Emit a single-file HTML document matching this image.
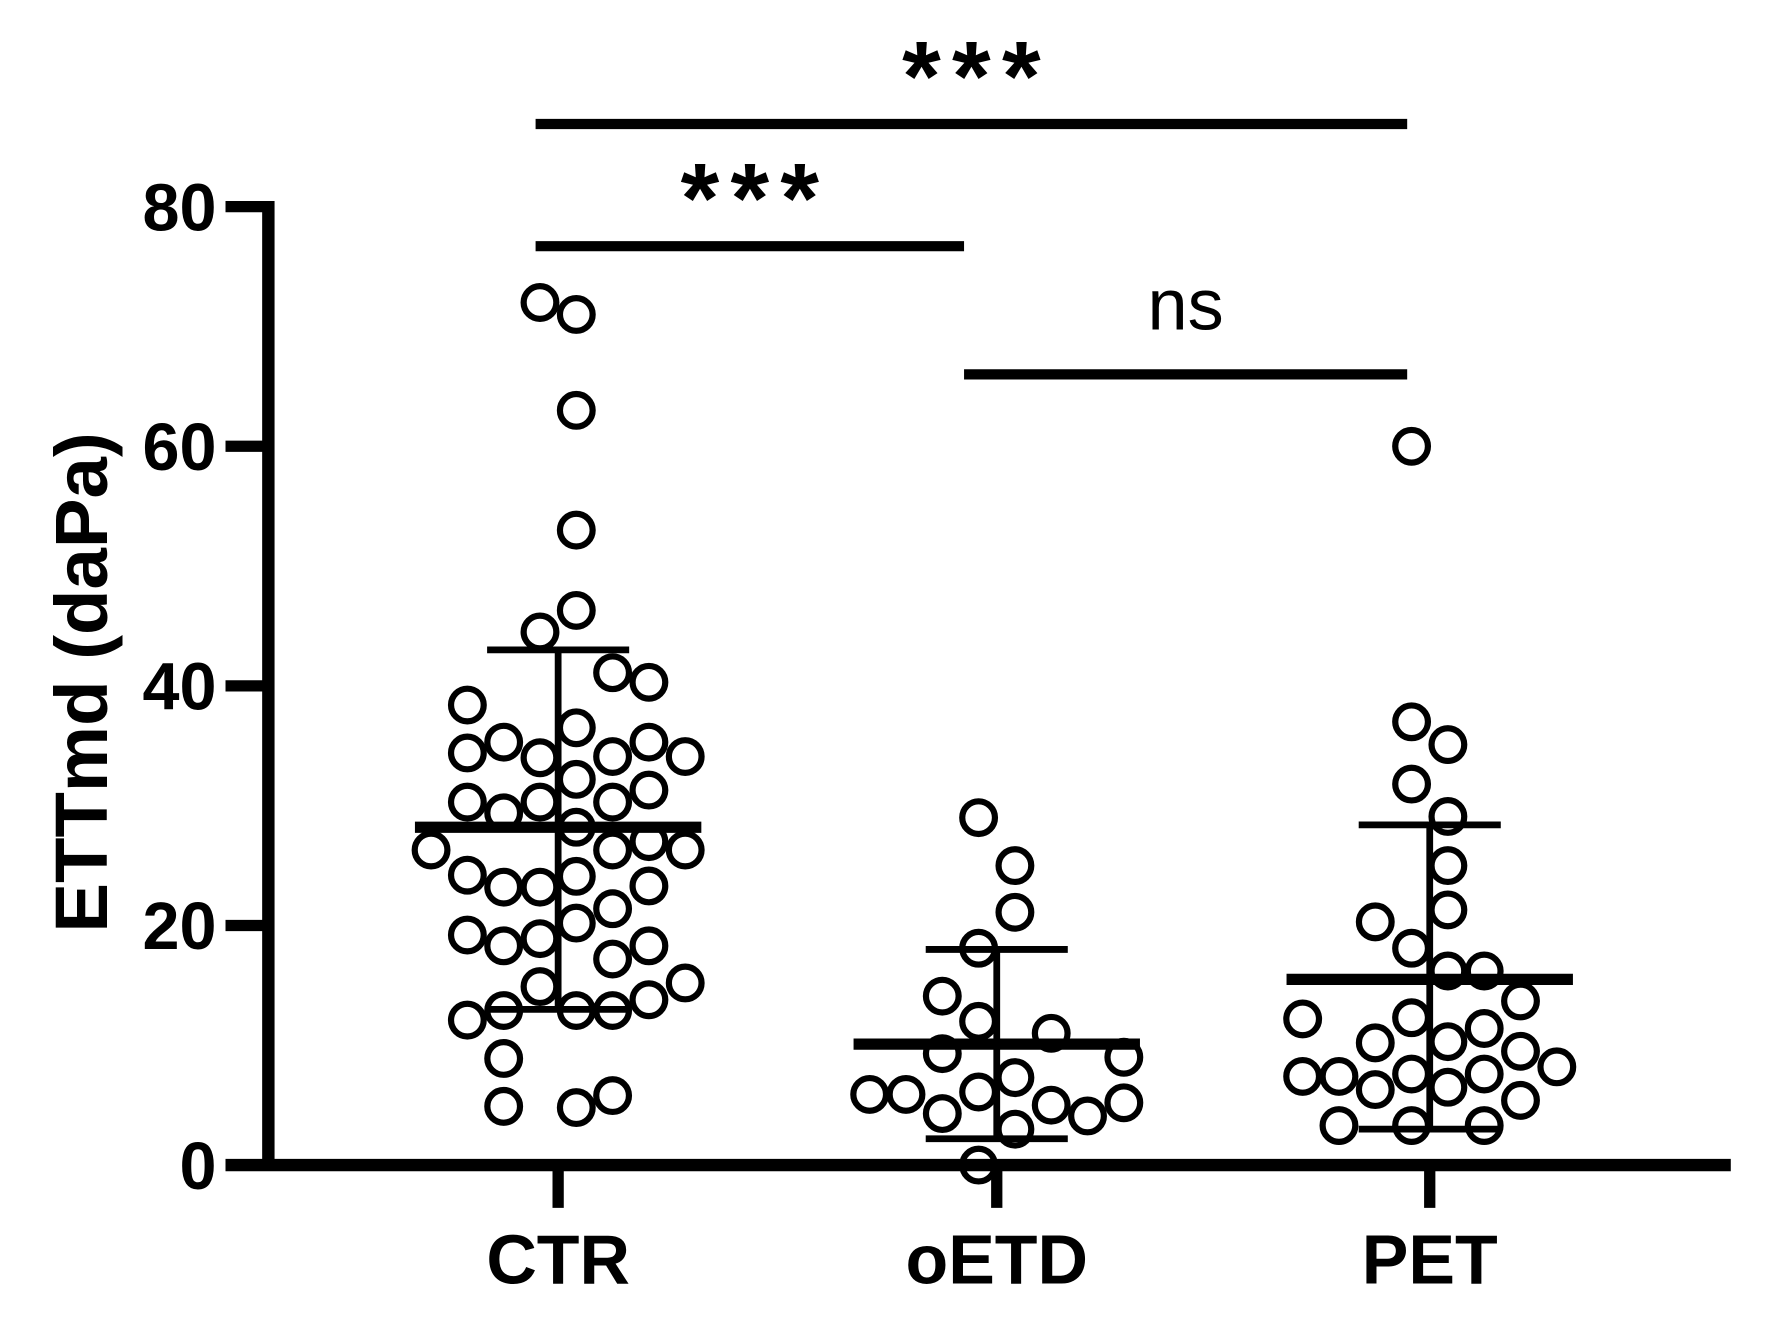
<!DOCTYPE html>
<html><head><meta charset="utf-8"><style>
html,body{margin:0;padding:0;background:#fff;}
svg{display:block;}
text{font-family:"Liberation Sans",Arial,sans-serif;fill:#000;}
</style></head><body>
<svg id="chart" width="1768" height="1321" viewBox="0 0 1568 1171" xmlns="http://www.w3.org/2000/svg">
<rect width="1568" height="1171" fill="#fff"/>
<g id="axes"></g>
<g id="marks"></g>
<g id="sig"></g>
</svg>
<script>
const categories = ["CTR", "oETD", "PET"];
const yTicks = [0, 20, 40, 60, 80];
const ctrSlots = [-1,0,0,0,0,-1,1,2,-3,0,-2,2,-3,-1,1,3,0,-3,-2,-1,1,2,0,-4,1,2,3,-3,-2,-1,0,2,1,0,-3,-2,-1,1,2,-1,3,2,-2,0,1,-3,-2,-2,0,1];
const ctrValues = [72,71,63,53,46.3,44.5,41.1,40.3,38.4,36.5,35.3,35.3,34.4,34.0,34.1,34.1,32.2,30.3,29.4,30.3,30.3,31.3,28.2,26.3,26.3,27.0,26.3,24.2,23.2,23.2,24.1,23.3,21.4,20.2,19.2,18.3,18.9,17.2,18.3,14.9,15.2,13.8,12.9,12.9,12.9,12.1,8.9,4.9,4.8,5.8];
const oetdSlots = [-1,0,0,-1,-2,-1,1,-2,3,-4,-3,-1,0,-2,1,2,3,0,-1];
const oetdValues = [29,25,21.1,18.1,14.1,12,11,9.3,9,5.9,5.9,6.1,7.3,4.3,5,4.1,5.2,3,0];
const petSlots = [-1,-1,0,-1,0,0,0,-2,-1,0,1,2,-4,-1,1,-2,0,2,3,-4,-3,-1,1,-2,0,2,-3,-1,1];
const petValues = [60,37,35.1,31.8,29.1,25,21.3,20.3,18.1,16.2,16.2,13.7,12.2,12.3,11.4,10.2,10.3,9.5,8.2,7.4,7.4,7.6,7.6,6.3,6.5,5.4,3.3,3.3,3.3];
const means = [28.2, 10.1, 15.5];
const sdUpper = [43, 18.0, 28.4];
const sdLower = [13, 2.2, 3.0];
const sigLabels = ["***", "***", "ns"];
const sigFrom = [0, 0, 1];
const sigTo = [2, 1, 2];
const sigLevel = [86.9, 76.7, 66.0];

const NS = "http://www.w3.org/2000/svg";
const yZero = 1033, yTop = 183, xLeft = 238, xRight = 1535;
const catX = [495, 884, 1268];
function yScale(v){ return yZero - v * (yZero - yTop) / 80; }
function xScale(i, slot){ return catX[i] + (slot + 0.5) * 32.2; }
function mk(tag, attrs, parent){
  const el = document.createElementNS(NS, tag);
  for (const k in attrs) el.setAttribute(k, attrs[k]);
  parent.appendChild(el); return el;
}
const axes = document.getElementById("axes");
const marks = document.getElementById("marks");
const sig = document.getElementById("sig");

let yl = mk("line", {x1:xLeft, y1:yTop-5, x2:xLeft, y2:yZero+5, stroke:"#000","stroke-width":11}, axes);


let xl = mk("line", {x1:xLeft-38, y1:yZero, x2:xRight, y2:yZero, stroke:"#000","stroke-width":11}, axes);


yTicks.forEach(t => {
  const y = yScale(t);
  let tk = mk("line", {x1:xLeft-38, y1:y, x2:xLeft, y2:y, stroke:"#000","stroke-width":10}, axes);
  
  
  let tx = mk("text", {x:xLeft-46, y:y+21, "text-anchor":"end","font-size":59,"font-weight":"bold"}, axes);
  tx.textContent = t;
  
  
});
categories.forEach((c, i) => {
  let tk = mk("line", {x1:catX[i], y1:yZero, x2:catX[i], y2:yZero+38, stroke:"#000","stroke-width":10}, axes);
  
  
  let tx = mk("text", {x:catX[i], y:1138, "text-anchor":"middle","font-size":62,"font-weight":"bold"}, axes);
  tx.textContent = c;
  
  
});
let yt = mk("text", {x:0, y:0, transform:"translate(95,605) rotate(-90)", "text-anchor":"middle","font-size":66,"font-weight":"bold"}, axes);
yt.textContent = "ETTmd (daPa)";



const groups = [[ctrSlots, ctrValues], [oetdSlots, oetdValues], [petSlots, petValues]];
groups.forEach((g, i) => {
  g[1].forEach((v, j) => {
    let c = mk("circle", {cx:xScale(i, g[0][j]), cy:yScale(v), r:14.5, fill:"none", stroke:"#000","stroke-width":5.5}, marks);
    
    
  });
  const cx = catX[i];
  let v = mk("line", {x1:cx, y1:yScale(sdUpper[i]), x2:cx, y2:yScale(sdLower[i]), stroke:"#000","stroke-width":6}, marks);
  
  
  [sdUpper[i], sdLower[i]].forEach((s, k) => {
    let cap = mk("line", {x1:cx-63, y1:yScale(s), x2:cx+63, y2:yScale(s), stroke:"#000","stroke-width":6}, marks);
    
    
  });
  let m = mk("line", {x1:cx-127, y1:yScale(means[i]), x2:cx+127, y2:yScale(means[i]), stroke:"#000","stroke-width":10}, marks);
  
  
});

const sigLineX = [475, 855, 1248];
sigLabels.forEach((lab, i) => {
  const x1 = sigLineX[sigFrom[i]], x2 = sigLineX[sigTo[i]];
  const y = yScale(sigLevel[i]);
  let l = mk("line", {x1:x1, y1:y, x2:x2, y2:y, stroke:"#000","stroke-width":9}, sig);
  
  
  const isNs = lab === "ns";
  let t;
  if (isNs) {
    t = mk("text", {x:(x1+x2)/2, y:y-40, "text-anchor":"middle", "font-size":64}, sig);
  } else {
    t = mk("text", {x:(x1+x2)/2 + 5, y:y-12, "text-anchor":"middle", "font-size":88, "font-weight":"bold", "letter-spacing":10}, sig);
  }
  t.textContent = lab;
  
  
});
</script>
</body></html>
